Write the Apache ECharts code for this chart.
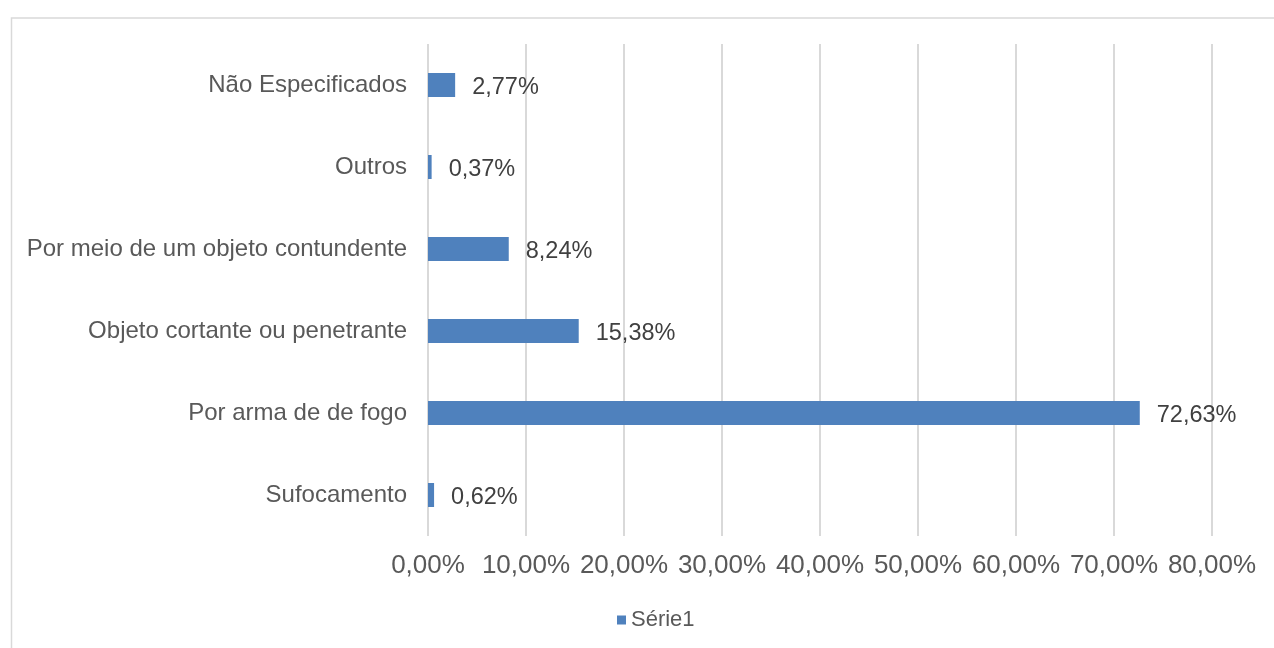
<!DOCTYPE html>
<html>
<head>
<meta charset="utf-8">
<script src="https://cdn.jsdelivr.net/npm/echarts@6/dist/echarts.min.js"></script>
<style>
  html, body { margin: 0; padding: 0; background: #ffffff; }
  #chart { width: 1274px; height: 648px; }
</style>
</head>
<body>
<div id="chart"></div>
<script>
// Causes, listed bottom to top as they appear on the category axis
const categories = [
  'Sufocamento',
  'Por arma de de fogo',
  'Objeto cortante ou penetrante',
  'Por meio de um objeto contundente',
  'Outros',
  'Não Especificados'
];
// Share of cases (percent)
const serie1 = [0.62, 72.63, 15.38, 8.24, 0.37, 2.77];
const seriesName = 'Série1';
// Value axis range and step (percent)
const axisMin = 0;
const axisMax = 80;
const axisStep = 10;

const FONT = '"Liberation Sans", Arial, sans-serif';
const pct = v => v.toFixed(2).replace('.', ',') + '%';

const chart = echarts.init(document.getElementById('chart'), null, { renderer: 'canvas' });
chart.setOption({
  backgroundColor: '#ffffff',
  animation: false,
  graphic: [{
    type: 'rect',
    left: 9, top: 15.5,
    shape: { width: 1300, height: 700 },
    style: { fill: 'none', stroke: '#d9d9d9', lineWidth: 1.5 },
    silent: true
  }],
  grid: { left: 428, right: 62, top: 44, bottom: 112, containLabel: false },
  legend: {
    data: [seriesName],
    bottom: 12,
    left: 612,
    itemWidth: 9,
    itemHeight: 9,
    itemGap: 7,
    icon: 'rect',
    textStyle: { color: '#595959', fontSize: 22, fontFamily: FONT }
  },
  xAxis: {
    type: 'value',
    min: axisMin,
    max: axisMax,
    interval: axisStep,
    axisLine: { show: false },
    axisTick: { show: false },
    splitLine: { show: true, lineStyle: { color: '#d9d9d9', width: 2 } },
    axisLabel: {
      color: '#595959',
      fontSize: 26,
      fontFamily: FONT,
      margin: 17,
      formatter: v => pct(v)
    }
  },
  yAxis: {
    type: 'category',
    data: categories,
    axisLine: { show: false },
    axisTick: { show: false },
    splitLine: { show: false },
    axisLabel: {
      color: '#595959',
      fontSize: 24,
      fontFamily: FONT,
      margin: 21,
      padding: [4, 0, 0, 0]
    }
  },
  series: [{
    name: seriesName,
    type: 'bar',
    data: serie1,
    barWidth: 24,
    itemStyle: { color: '#4f81bd' },
    label: {
      show: true,
      position: 'right',
      distance: 17,
      offset: [0, 3],
      color: '#404040',
      fontSize: 23.5,
      fontFamily: FONT,
      formatter: p => pct(p.value)
    }
  }]
});
</script>
</body>
</html>
